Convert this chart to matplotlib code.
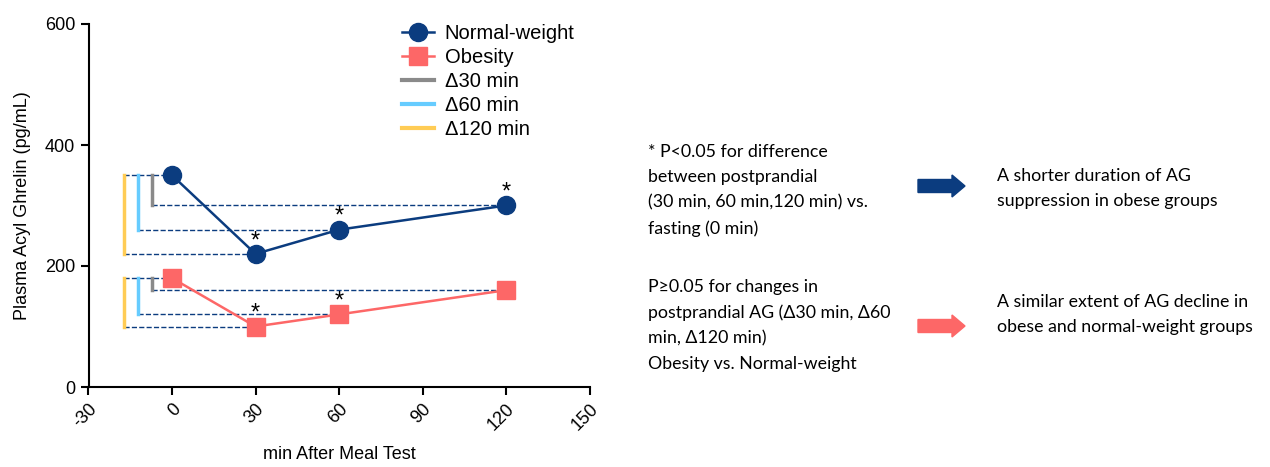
import matplotlib.pyplot as plt
from matplotlib.patches import FancyArrow

plt.rcParams['font.family'] = ['Liberation Sans', 'DejaVu Sans']

times = [0, 30, 60, 120]
normal = [350, 220, 260, 300]
obese = [180, 100, 120, 160]
xticks = [-30, 0, 30, 60, 90, 120, 150]
yticks = [0, 200, 400, 600]
star_normal = [30, 60, 120]
star_obese = [30, 60]

navy = '#0b3c7f'
pink = '#fd6767'
grey = '#8a8a8a'
sky = '#66ccff'
gold = '#ffcc55'

fig = plt.figure(figsize=(12.7, 4.67), dpi=100)
ax = fig.add_axes([88.5 / 1270, 80 / 467, 501 / 1270, 363 / 467])

# brackets for deltas: (x position, color, index of compared time point)
brackets = [(-7.2, grey, 3), (-12.2, sky, 2), (-17.2, gold, 1)]
for vals in (normal, obese):
    ax.plot([brackets[2][0], 0], [vals[0], vals[0]], ls='--', color=navy, lw=1, zorder=1)
    for bx, col, idx in brackets:
        ax.plot([bx, bx], [vals[0], vals[idx]], color=col, lw=2.5, zorder=2)
        ax.plot([bx, times[idx]], [vals[idx], vals[idx]], ls='--', color=navy, lw=1, zorder=1)

ax.plot(times, normal, color=navy, marker='o', ms=13, lw=1.8, label='Normal-weight', zorder=3)
ax.plot(times, obese, color=pink, marker='s', ms=13, lw=1.8, label='Obesity', zorder=3)
ax.plot([], [], color=grey, lw=3, label='Δ30 min')
ax.plot([], [], color=sky, lw=3, label='Δ60 min')
ax.plot([], [], color=gold, lw=3, label='Δ120 min')

for t in star_normal:
    ax.text(t, normal[times.index(t)] + 21, '*', ha='center', va='center', fontsize=17)
for t in star_obese:
    ax.text(t, obese[times.index(t)] + 21, '*', ha='center', va='center', fontsize=17)

ax.set_xlim(-30, 150)
ax.set_ylim(0, 600)
ax.set_xticks(xticks)
ax.set_xticklabels([str(v) for v in xticks], rotation=45, ha='right', rotation_mode='anchor')
ax.set_yticks(yticks)
ax.tick_params(labelsize=13, width=1.5, length=6)
ax.spines['top'].set_visible(False)
ax.spines['right'].set_visible(False)
ax.spines['left'].set_linewidth(1.5)
ax.spines['bottom'].set_linewidth(1.5)
ax.set_xlabel('min After Meal Test', fontsize=13, labelpad=9)
ax.set_ylabel('Plasma Acyl Ghrelin (pg/mL)', fontsize=13, labelpad=10)
ax.legend(loc='upper left', bbox_to_anchor=(0.59, 1.05), frameon=False, fontsize=14.5,
          handlelength=1.6, handletextpad=0.5, labelspacing=0.25)

tfont = dict(family=['Lato', 'DejaVu Sans'], fontsize=12.8, va='top', linespacing=1.72)
fig.text(648 / 1270, 1 - 144 / 467,
         '* P<0.05 for difference\nbetween postprandial\n(30 min, 60 min,120 min) vs.\nfasting (0 min)', **tfont)
fig.text(648 / 1270, 1 - 279 / 467,
         'P≥0.05 for changes in\npostprandial AG (Δ30 min, Δ60\nmin, Δ120 min)\nObesity vs. Normal-weight', **tfont)
fig.text(997 / 1270, 1 - 168 / 467, 'A shorter duration of AG\nsuppression in obese groups', **tfont)
fig.text(997 / 1270, 1 - 294 / 467, 'A similar extent of AG decline in\nobese and normal-weight groups', **tfont)

for yy, col in ((186, navy), (326, pink)):
    fig.patches.append(FancyArrow(918 / 1270, 1 - yy / 467, 47 / 1270, 0, width=13 / 467,
                                  head_width=22 / 467, head_length=13 / 1270,
                                  length_includes_head=True, color=col,
                                  transform=fig.transFigure, figure=fig))

fig.savefig('out.png', dpi=100)
